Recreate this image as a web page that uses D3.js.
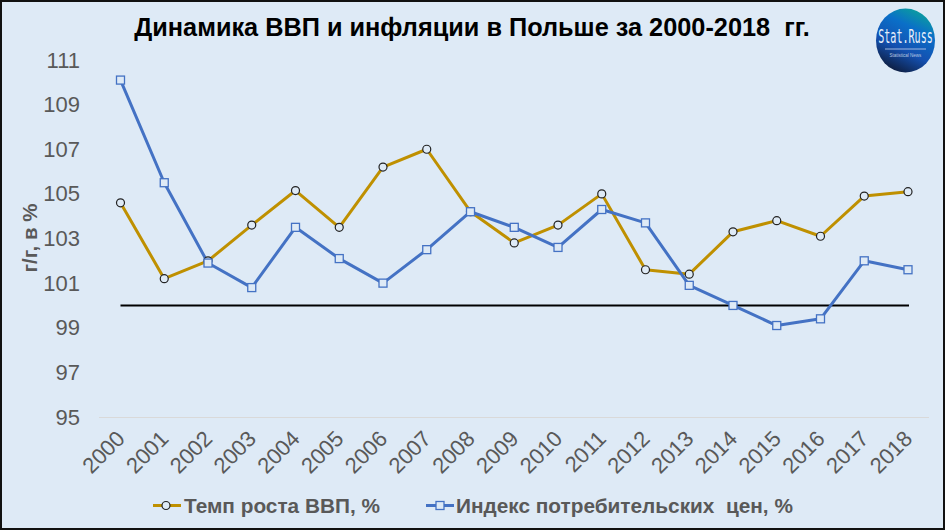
<!DOCTYPE html>
<html><head><meta charset="utf-8">
<script src="https://cdn.jsdelivr.net/npm/d3@7"></script>
<style>html,body{margin:0;padding:0;background:#fff}svg{display:block}text{font-family:"Liberation Sans",Arial,sans-serif}</style>
</head><body><svg id="c" width="945" height="530"></svg>
<script>
const years=["2000","2001","2002","2003","2004","2005","2006","2007","2008","2009","2010","2011","2012","2013","2014","2015","2016","2017","2018"];
const gdp=[104.6,101.2,102,103.6,105.15,103.5,106.2,107,104.2,102.8,103.6,105,101.6,101.4,103.3,103.8,103.1,104.9,105.1];
const cpi=[110.1,105.5,101.9,100.8,103.5,102.1,101,102.5,104.2,103.5,102.6,104.3,103.7,100.9,100,99.1,99.4,102,101.6];
const yTicks=[95,97,99,101,103,105,107,109,111];
const baseline=[100,100];
const title="Динамика ВВП и инфляции в Польше за 2000-2018  гг.";
const yTitle="г/г, в %";
const gdpName="Темп роста ВВП, %";
const cpiName="Индекс потребительских  цен, %";
const gold="#BF9000",blue="#4472C4",grey="#595959",bg="#DEEAF6";

const svg=d3.select("#c");
svg.append("rect").attr("x",1).attr("y",1).attr("width",943).attr("height",528).attr("fill",bg).attr("stroke","#111").attr("stroke-width",2);
const defs=svg.append("defs");
const g=defs.append("linearGradient").attr("id","lg").attr("x1",.75).attr("y1",0).attr("x2",.3).attr("y2",1);
[[0,"#0BA39A"],[.3,"#0A6FC8"],[.65,"#1450B0"],[1,"#0D1B3A"]].forEach(d=>g.append("stop").attr("offset",d[0]).attr("stop-color",d[1]));

const x=d3.scalePoint().domain(years).range([120.5,908]);
const y=d3.scaleLinear().domain([95,111]).range([417,60]);

const ya=svg.append("g").attr("transform","translate(99,0)").call(d3.axisLeft(y).tickValues(yTicks).tickSize(0).tickPadding(19).tickFormat(d3.format("d")));
ya.select(".domain").remove();
ya.selectAll("text").attr("fill",grey).attr("font-size",22);
const xa=svg.append("g").attr("transform","translate(0,417)").call(d3.axisBottom(x).tickSize(0).tickFormat(d=>d));
xa.select(".domain").attr("stroke","#D9D9D9").attr("stroke-width",1).attr("d","M99,0.5H929");
xa.selectAll("text").attr("fill",grey).attr("font-size",22).attr("text-anchor","end").attr("dy",0)
  .attr("transform","translate(1,19) rotate(-45)").attr("x",0).attr("y",0).attr("dominant-baseline","middle");

svg.append("line").attr("x1",x(years[0])).attr("x2",x(years[years.length-1])+1).attr("y1",y(baseline[0])).attr("y2",y(baseline[1])).attr("stroke","#000").attr("stroke-width",2);

const line=d3.line().x((d,i)=>x(years[i])).y(d=>y(d));
svg.append("path").datum(gdp).attr("d",line).attr("fill","none").attr("stroke",gold).attr("stroke-width",3).attr("stroke-linejoin","round");
svg.append("path").datum(cpi).attr("d",line).attr("fill","none").attr("stroke",blue).attr("stroke-width",3).attr("stroke-linejoin","round");
svg.selectAll(".g").data(gdp).join("circle").attr("class","g").attr("cx",(d,i)=>x(years[i])).attr("cy",d=>y(d)).attr("r",4).attr("fill",bg).attr("stroke","#222").attr("stroke-width",1.2);
svg.selectAll(".b").data(cpi).join("rect").attr("class","b").attr("x",(d,i)=>x(years[i])-4).attr("y",d=>y(d)-4).attr("width",8).attr("height",8).attr("fill",bg).attr("stroke",blue).attr("stroke-width",1.3);

svg.append("text").attr("x",472).attr("y",36).attr("xml:space","preserve").attr("text-anchor","middle").attr("font-size",25.3).attr("font-weight","bold").attr("fill","#000").text(title);
svg.append("text").attr("transform","translate(37,238) rotate(-90)").attr("text-anchor","middle").attr("font-size",20.5).attr("font-weight","bold").attr("fill",grey).text(yTitle);

svg.append("line").attr("x1",153).attr("x2",181).attr("y1",505.5).attr("y2",505.5).attr("stroke",gold).attr("stroke-width",3);
svg.append("circle").attr("cx",166).attr("cy",505.5).attr("r",4).attr("fill",bg).attr("stroke","#222").attr("stroke-width",1.2);
svg.append("text").attr("x",184).attr("y",513).attr("font-size",20.8).attr("font-weight","bold").attr("fill",grey).text(gdpName);
svg.append("line").attr("x1",426).attr("x2",454).attr("y1",505.5).attr("y2",505.5).attr("stroke",blue).attr("stroke-width",3);
svg.append("rect").attr("x",436).attr("y",501.5).attr("width",8).attr("height",8).attr("fill",bg).attr("stroke",blue).attr("stroke-width",1.3);
svg.append("text").attr("x",456).attr("y",513).attr("xml:space","preserve").attr("font-size",20.8).attr("font-weight","bold").attr("fill",grey).text(cpiName);

svg.append("ellipse").attr("cx",905.5).attr("cy",40.5).attr("rx",29.5).attr("ry",32).attr("fill","url(#lg)");
svg.append("text").attr("transform","translate(905.5,43) scale(0.53,1)").attr("text-anchor","middle").attr("font-size",19).attr("fill","#E8F0FA").attr("style",'font-family:"DejaVu Sans Mono",monospace').text("Stat.Russ");
svg.append("line").attr("x1",885).attr("x2",926).attr("y1",49).attr("y2",49).attr("stroke","#9FB8E0").attr("stroke-width",1);
svg.append("text").attr("x",905.5).attr("y",57).attr("text-anchor","middle").attr("font-size",4.5).attr("fill","#B8C8E0").text("Statistical   News");
</script></body></html>
